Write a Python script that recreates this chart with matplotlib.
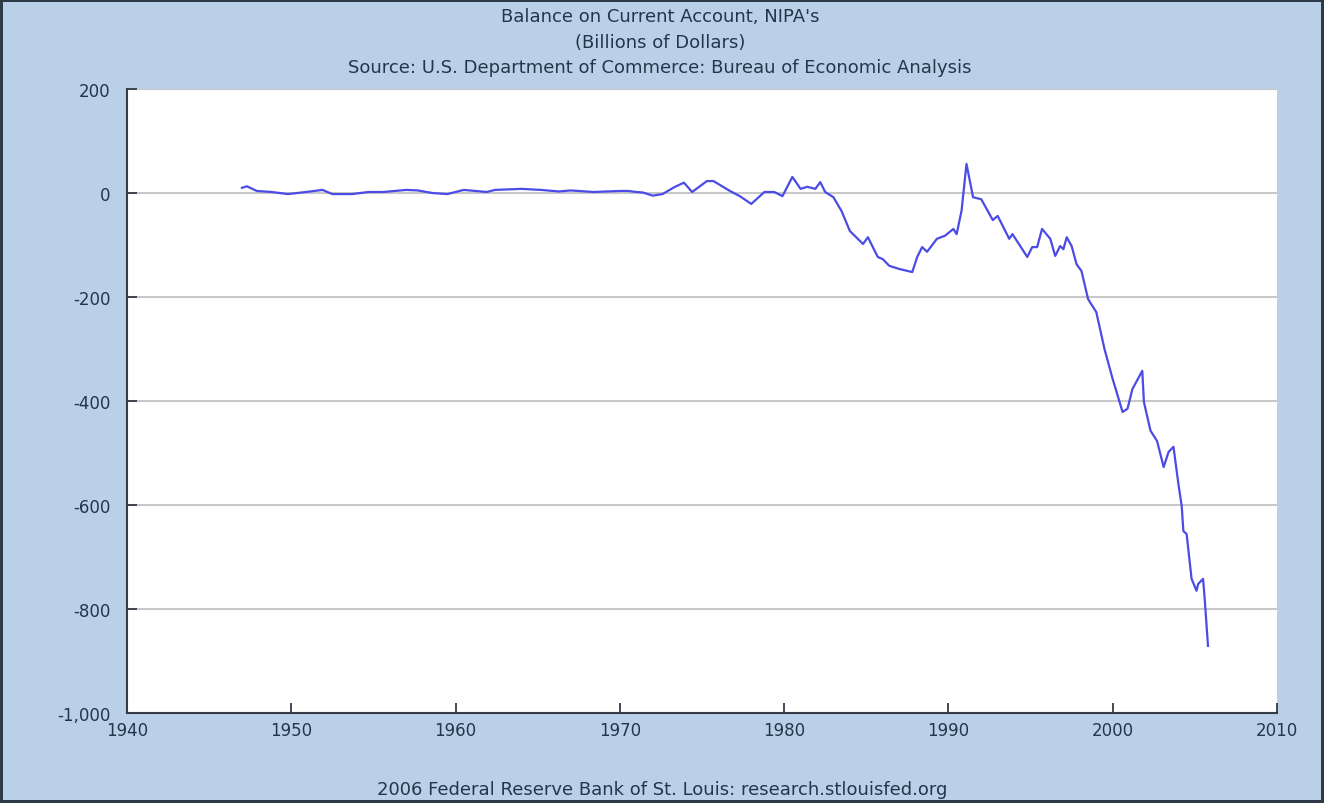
import matplotlib
matplotlib.use("Agg")
import matplotlib.pyplot as plt
from matplotlib.ticker import FuncFormatter

# Valeurs (année décimale, milliards de dollars)
years = [
    1947.0, 1947.3, 1947.9, 1948.8, 1949.8, 1950.9, 1951.9, 1952.5, 1953.7, 1954.7,
    1955.6, 1957.0, 1957.7, 1958.6, 1959.5, 1960.5, 1961.9, 1962.4, 1964.0, 1965.2,
    1966.3, 1967.0, 1968.4, 1970.0, 1970.5, 1971.0, 1971.4, 1972.0, 1972.6, 1973.3,
    1973.9, 1974.4, 1975.3, 1975.7, 1976.7, 1977.3, 1978.0, 1978.8, 1979.4, 1979.9,
    1980.5, 1981.0, 1981.4, 1981.9, 1982.2, 1982.5, 1983.0, 1983.5, 1984.0, 1984.8,
    1985.1, 1985.7, 1986.0, 1986.4, 1987.0, 1987.8, 1988.1, 1988.4, 1988.7, 1989.3,
    1989.8, 1990.3, 1990.5, 1990.8, 1991.1, 1991.5, 1992.0, 1992.7, 1993.0, 1993.7,
    1993.9, 1994.8, 1995.1, 1995.4, 1995.7, 1996.2, 1996.5, 1996.8, 1997.0, 1997.2,
    1997.5, 1997.8, 1998.1, 1998.5, 1999.0, 1999.5, 2000.0, 2000.6, 2000.9, 2001.2,
    2001.8, 2001.9, 2002.3, 2002.7, 2003.1, 2003.4, 2003.7, 2004.0, 2004.2, 2004.3,
    2004.5, 2004.8, 2005.1, 2005.2, 2005.5, 2005.6, 2005.8,
]
balance = [
    10, 13, 4, 2, -2, 2, 6, -2, -2, 2,
    2, 6, 5, 0, -2, 6, 2, 6, 8, 6,
    3, 5, 2, 4, 4, 2, 1, -5, -2, 11,
    20, 2, 23, 23, 4, -6, -21, 2, 2, -6,
    31, 8, 12, 8, 21, 2, -8, -35, -73, -98,
    -85, -123, -127, -140, -146, -152, -123, -104, -113, -88,
    -82, -69, -79, -34, 56, -8, -12, -52, -44, -88,
    -79, -123, -104, -104, -69, -88, -121, -102, -108, -85,
    -102, -137, -150, -204, -229, -300, -358, -421, -415, -377,
    -342, -402, -457, -477, -527, -498, -488, -560, -602, -650,
    -656, -742, -765, -752, -742, -781, -871,
]

titre = ["Balance on Current Account, NIPA's",
         "(Billions of Dollars)",
         "Source: U.S. Department of Commerce: Bureau of Economic Analysis"]
pied = "2006 Federal Reserve Bank of St. Louis: research.stlouisfed.org"

bg = "#b9d0e8"
txt = "#26364a"
fig = plt.figure(figsize=(13.24, 8.04), dpi=100, facecolor=bg,
                 edgecolor="#2e3a48", linewidth=3)
ax = fig.add_axes([0.0959, 0.112, 0.8686, 0.776])
ax.set_facecolor("white")

ax.plot(years, balance, color="#4b4be6", lw=1.6)

ax.set_xlim(1940, 2010)
ax.set_ylim(-1000, 200)
ax.set_xticks(range(1940, 2011, 10))
ax.set_yticks(range(-1000, 201, 200))
ax.yaxis.set_major_formatter(FuncFormatter(lambda v, p: f"{int(v):,}"))
ax.grid(axis="y", color="#c8c8c8", lw=1.5)
ax.set_axisbelow(True)

for s in ["top", "right"]:
    ax.spines[s].set_visible(False)
for s in ["left", "bottom"]:
    ax.spines[s].set_color("#333a44")
    ax.spines[s].set_linewidth(1.5)
ax.tick_params(axis="x", direction="in", length=7, width=1.3, color="#333a44",
               labelsize=12, pad=6, labelcolor=txt)
ax.tick_params(axis="y", direction="in", length=7, width=1.3, color="#333a44",
               labelsize=12, pad=12, labelcolor=txt)

fig.text(0.4985, 1 - 17 / 804, titre[0], ha="center", va="center", fontsize=13, color=txt)
fig.text(0.4985, 1 - 43 / 804, titre[1], ha="center", va="center", fontsize=13, color=txt)
fig.text(0.4985, 1 - 68 / 804, titre[2], ha="center", va="center", fontsize=13, color=txt)
fig.text(0.5, 1 - 790 / 804, pied, ha="center", va="center", fontsize=13, color=txt)

fig.savefig("out.png", dpi=100, facecolor=bg, edgecolor=fig.get_edgecolor())
